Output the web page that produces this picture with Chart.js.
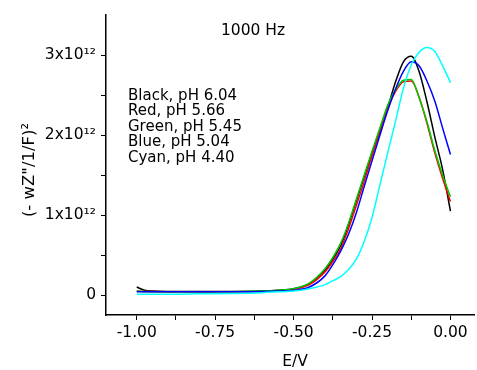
<!DOCTYPE html>
<html><head><meta charset="utf-8">
<script src="https://cdn.jsdelivr.net/npm/chart.js@4.4.1/dist/chart.umd.min.js"></script>
<style>html,body{margin:0;padding:0;background:#fff}</style>
</head><body>
<canvas id="c" width="477" height="370"></canvas>
<script>
// Potential E/V (x values)
const potentials = [-1.00,-0.975,-0.95,-0.90,-0.80,-0.70,-0.60,-0.55,-0.50,-0.45,-0.40,-0.375,-0.35,-0.325,-0.30,-0.275,-0.25,-0.225,-0.20,-0.175,-0.15,-0.125,-0.10,-0.075,-0.05,-0.025,0.00];
// (-wZ''/(1/F))^2 series
const blackPH604 = [0.10e12,0.06e12,0.05e12,0.045e12,0.045e12,0.045e12,0.05e12,0.06e12,0.08e12,0.14e12,0.31e12,0.45e12,0.62e12,0.88e12,1.18e12,1.48e12,1.78e12,2.07e12,2.35e12,2.67e12,2.92e12,2.99e12,2.80e12,2.42e12,1.98e12,1.57e12,1.05e12];
const redPH566   = [0.05e12,0.045e12,0.045e12,0.04e12,0.04e12,0.04e12,0.045e12,0.055e12,0.07e12,0.13e12,0.29e12,0.42e12,0.58e12,0.83e12,1.12e12,1.42e12,1.74e12,2.04e12,2.34e12,2.55e12,2.67e12,2.68e12,2.48e12,2.15e12,1.78e12,1.46e12,1.17e12];
const greenPH545 = [0.05e12,0.045e12,0.04e12,0.04e12,0.04e12,0.04e12,0.05e12,0.06e12,0.08e12,0.15e12,0.33e12,0.47e12,0.65e12,0.90e12,1.20e12,1.50e12,1.80e12,2.09e12,2.38e12,2.57e12,2.69e12,2.70e12,2.47e12,2.17e12,1.81e12,1.50e12,1.23e12];
const bluePH504  = [0.04e12,0.04e12,0.04e12,0.04e12,0.04e12,0.04e12,0.045e12,0.05e12,0.06e12,0.10e12,0.24e12,0.38e12,0.55e12,0.76e12,1.03e12,1.36e12,1.68e12,2.00e12,2.31e12,2.58e12,2.80e12,2.92e12,2.87e12,2.68e12,2.43e12,2.09e12,1.76e12];
const cyanPH440  = [0.01e12,0.01e12,0.01e12,0.01e12,0.015e12,0.02e12,0.03e12,0.04e12,0.05e12,0.08e12,0.13e12,0.18e12,0.23e12,0.32e12,0.45e12,0.67e12,0.97e12,1.38e12,1.78e12,2.18e12,2.59e12,2.88e12,3.04e12,3.10e12,3.05e12,2.87e12,2.66e12];

const seriesNames = ['Black, pH 6.04','Red, pH 5.66','Green, pH 5.45','Blue, pH 5.04','Cyan, pH 4.40'];
const xTicks = [-1.0,-0.875,-0.75,-0.625,-0.5,-0.375,-0.25,-0.125,0.0];
const xTickLabels = ['-1.00','','-0.75','','-0.50','','-0.25','','0.00'];
const yTicks = [0,0.5e12,1e12,1.5e12,2e12,2.5e12,3e12];
const yTickLabels = ['0','','1x10\u00B9\u00B2','','2x10\u00B9\u00B2','','3x10\u00B9\u00B2'];
const titleText = '1000 Hz';
const xTitle = 'E/V';
const yTitle = '(- wZ"/1/F)\u00B2';

const FONT = 'DejaVu Sans';
const seriesData = [blackPH604, redPH566, greenPH545, bluePH504, cyanPH440];
const colors = ['#000000','#ff0000','#00c800','#0000ff','#00ffff'];

const datasets = seriesData.map((vals, i) => ({
  label: seriesNames[i],
  data: potentials.map((x, j) => ({x: x, y: vals[j]})),
  borderColor: colors[i],
  borderWidth: 1.5,
  pointRadius: 0,
  fill: false,
  cubicInterpolationMode: 'monotone',
  order: 4 - i
}));

const textPlugin = {
  id: 'texts',
  afterDraw(chart) {
    const ctx = chart.ctx;
    ctx.save();
    ctx.fillStyle = '#000';
    ctx.font = '15.5px "' + FONT + '"';
    ctx.textAlign = 'center';
    ctx.textBaseline = 'middle';
    ctx.fillText(titleText, 253, 31);
    ctx.fillText(xTitle, 295, 362);
    ctx.textAlign = 'left';
    ctx.textBaseline = 'alphabetic';
    ctx.font = '15px "' + FONT + '"';
    seriesNames.forEach((t, i) => ctx.fillText(t, 128, 99.5 + i * 15.6));
    ctx.translate(30, 170);
    ctx.rotate(-Math.PI / 2);
    ctx.font = '16.5px "' + FONT + '"';
    ctx.textAlign = 'center';
    ctx.textBaseline = 'middle';
    ctx.fillText(yTitle, 0, 0);
    ctx.restore();
  }
};

new Chart(document.getElementById('c'), {
  type: 'line',
  data: { datasets },
  plugins: [textPlugin],
  options: {
    responsive: false,
    animation: false,
    devicePixelRatio: 1,
    layout: { padding: { top: 10, right: 3, left: 0, bottom: 0 } },
    plugins: { legend: { display: false }, tooltip: { enabled: false } },
    scales: {
      x: {
        type: 'linear',
        min: -1.098, max: 0.075,
        afterBuildTicks: s => { s.ticks = xTicks.map(v => ({ value: v })); },
        afterFit: s => { s.height = 55; },
        ticks: {
          autoSkip: false, maxRotation: 0, padding: 4, color: '#000',
          font: { family: FONT, size: 15.5 },
          callback: (v, i) => xTickLabels[i]
        },
        grid: { drawOnChartArea: false, drawTicks: true, tickLength: 5, color: '#000', lineWidth: 1 },
        border: { display: true, color: '#000', width: 1.5 }
      },
      y: {
        type: 'linear',
        min: -0.25e12, max: 3.515e12,
        afterBuildTicks: s => { s.ticks = yTicks.map(v => ({ value: v })); },
        afterFit: s => { s.width = 106; },
        ticks: {
          autoSkip: false, padding: 5, color: '#000',
          font: { family: FONT, size: 15.5 },
          callback: (v, i) => yTickLabels[i]
        },
        grid: { drawOnChartArea: false, drawTicks: true, tickLength: 5, color: '#000', lineWidth: 1 },
        border: { display: true, color: '#000', width: 1.5 }
      }
    }
  }
});
</script>
</body></html>
